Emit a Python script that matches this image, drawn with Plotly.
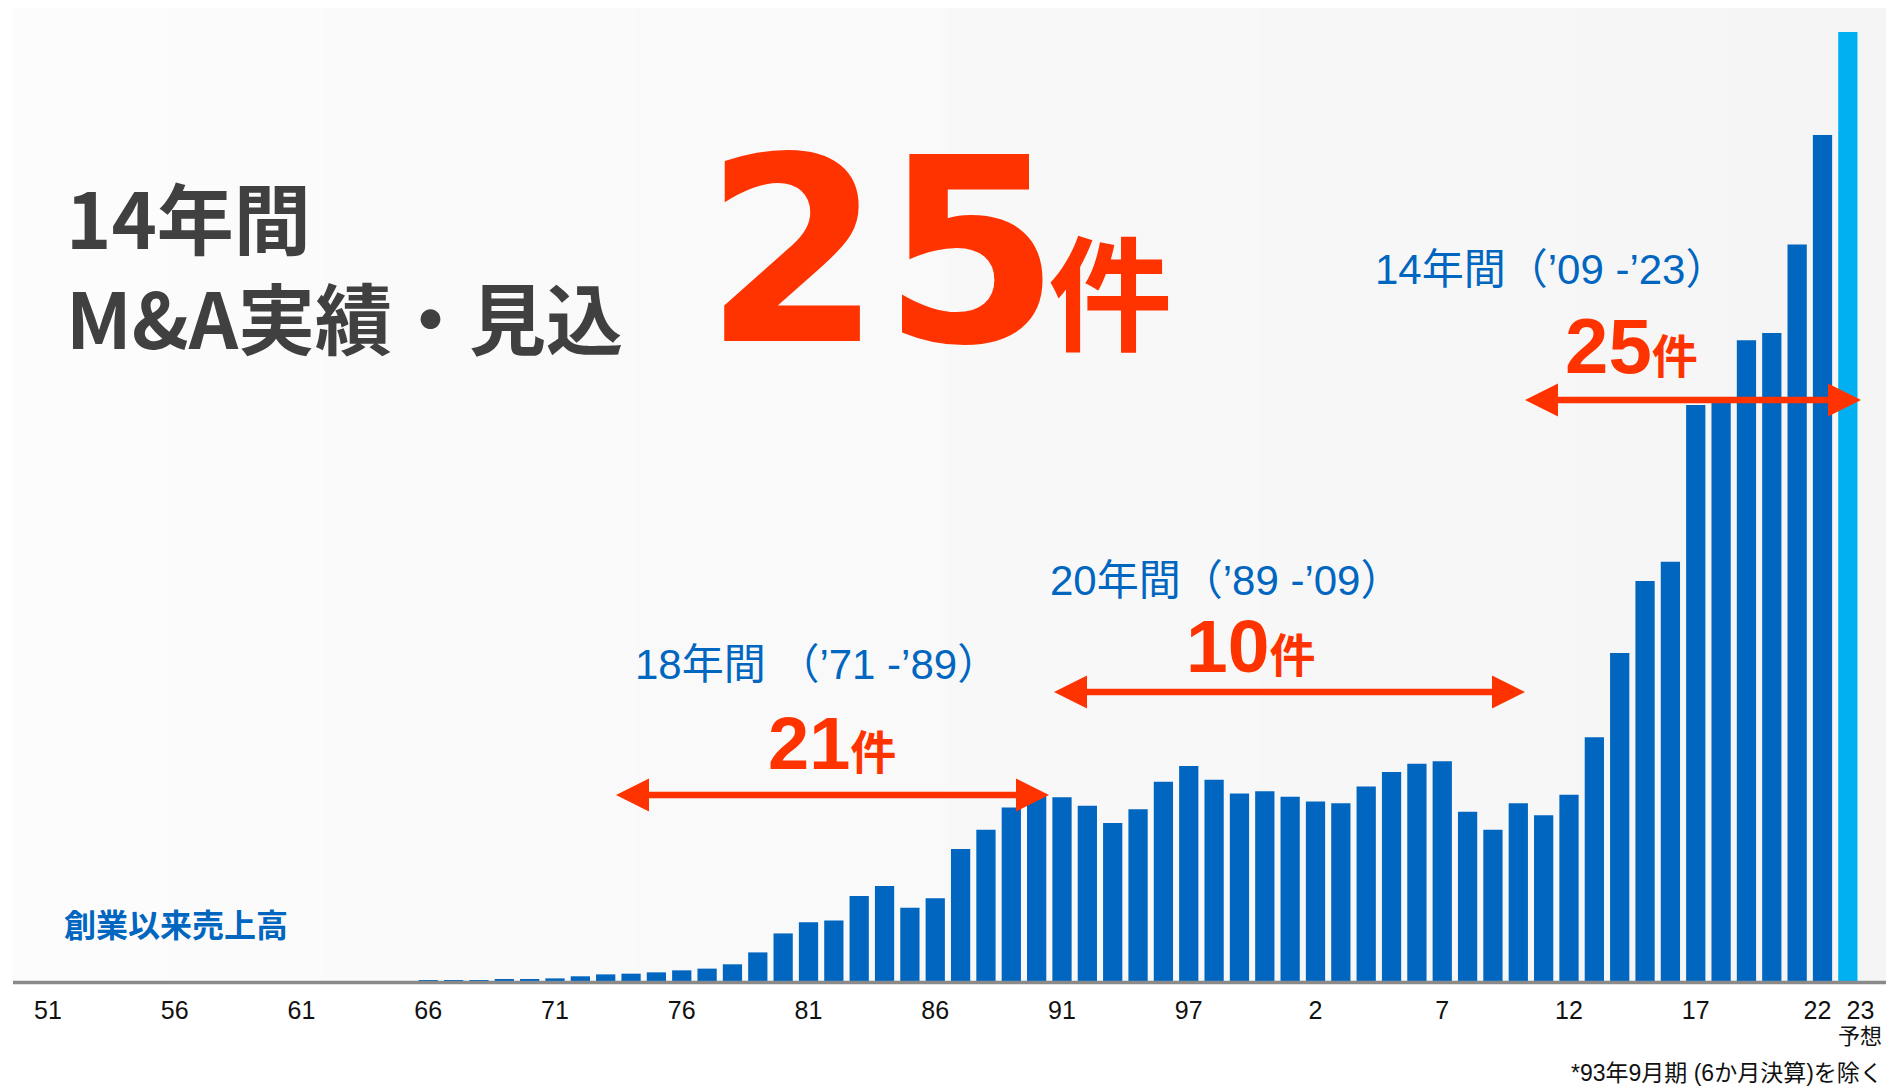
import plotly.graph_objects as go

# ---------------- data ----------------
periods = ["51", "52", "53", "54", "55", "56", "57", "58", "59", "60",
           "61", "62", "63", "64", "65", "66", "67", "68", "69", "70",
           "71", "72", "73", "74", "75", "76", "77", "78", "79", "80",
           "81", "82", "83", "84", "85", "86", "87", "88", "89", "90",
           "91", "92", "93", "95", "96", "97", "98", "99", "0", "1",
           "2", "3", "4", "5", "6", "7", "8", "9", "10", "11",
           "12", "13", "14", "15", "16", "17", "18", "19", "20", "21",
           "22", "23"]

sales = [0, 0, 0, 0, 0, 0, 0, 0, 0, 0,
         0, 0, 0, 0, 0, 6, 6, 11, 20, 31,
         40, 72, 101, 112, 132, 163, 189, 255, 437, 727,
         899, 925, 1297, 1453, 1119, 1266, 2018, 2312, 2652, 2863,
         2808, 2679, 2413, 2624, 3046, 3285, 3074, 2863, 2899, 2815,
         2741, 2716, 2973, 3193, 3321, 3358, 2587, 2312, 2716, 2532,
         2844, 3725, 5010, 6110, 6404, 8799, 8845, 9790, 9902, 11254,
         12928, 14500]

forecast_flags = [False] * 71 + [True]

tick_periods = ["51", "56", "61", "66", "71", "76", "81", "86", "91", "97",
                "2", "7", "12", "17", "22", "23"]
tick_texts = ["51", "56", "61", "66", "71", "76", "81", "86", "91", "97",
              "2", "7", "12", "17", "22", "23"]

# ---------------- layout helpers ----------------
W, H = 1886, 1087
PT, PB = 8, 981          # plot area top / bottom in pixels
X0_PX, SLOT_PX = 48, 25.35
TOP_PX = 32              # pixel top of the largest bar

def px(x):
    return x / W

def py(y):
    return (PB - y) / (PB - PT)

x_idx = list(range(len(periods)))
bar_colors = ["#00b0f0" if f else "#0066c0" for f in forecast_flags]

xmin = -X0_PX / SLOT_PX
xmax = (W - X0_PX) / SLOT_PX
ymax = max(sales) * (PB - PT) / (PB - TOP_PX)

tick_shift = {"22": -0.2, "23": 0.5}
tickvals = [periods.index(p) + tick_shift.get(p, 0) for p in tick_periods]

fig = go.Figure()
fig.add_trace(go.Bar(
    x=x_idx, y=sales, customdata=periods,
    marker=dict(color=bar_colors, line=dict(width=0)),
    width=0.76,
    hovertemplate="%{customdata}: %{y}<extra></extra>",
))

shapes = []
# subtle horizontal gradient background (bands)
band_cols = ["#fcfcfc", "#fbfbfb", "#fafafa", "#fafafa", "#f9f9f9", "#f9f9f9",
             "#f8f8f8", "#f8f8f8", "#f7f7f7", "#f7f7f7", "#f6f6f6", "#f5f5f5"]
bx0 = 12
bw = (W - bx0) / len(band_cols)
for i, c in enumerate(band_cols):
    shapes.append(dict(type="rect", xref="paper", yref="paper",
                       x0=px(bx0 + i * bw), x1=px(bx0 + (i + 1) * bw + 1),
                       y0=0, y1=1, fillcolor=c, line=dict(width=0),
                       layer="below"))
# baseline
shapes.append(dict(type="line", xref="paper", yref="paper",
                   x0=px(13), x1=1, y0=py(982.5), y1=py(982.5),
                   line=dict(color="#8a8a8a", width=3.5), layer="above"))

RED = "#ff3300"
BLUE = "#0066c0"

def arrow(xl, xr, y, head_len=33, head_half=16.5, thick=6.5):
    shapes.append(dict(type="line", xref="paper", yref="paper",
                       x0=px(xl + head_len - 2), x1=px(xr - head_len + 2),
                       y0=py(y), y1=py(y), line=dict(color=RED, width=thick)))
    for tip, base in ((xl, xl + head_len), (xr, xr - head_len)):
        path = (f"M {px(tip)},{py(y)} L {px(base)},{py(y - head_half)} "
                f"L {px(base)},{py(y + head_half)} Z")
        shapes.append(dict(type="path", xref="paper", yref="paper", path=path,
                           fillcolor=RED, line=dict(width=0)))

arrow(616, 1049, 795)
arrow(1054, 1525, 692)
arrow(1525, 1861, 400)

ann = []

def text(x, y, s, size, color, family="Liberation Sans, Noto Sans CJK JP",
         xanchor="left", yanchor="middle"):
    ann.append(dict(x=px(x), y=py(y), xref="paper", yref="paper", text=s,
                    showarrow=False, xanchor=xanchor, yanchor=yanchor,
                    align="left", font=dict(size=size, color=color, family=family)))

# headline
text(64, 265, "<b>14年間<br>M&amp;A実績・見込</b>", 77, "#404040",
     family="Noto Sans CJK JP")
text(702, 252,
     "<b>2<span style='letter-spacing:-12px'>5</span>"
     "<span style='font-family:Noto Sans CJK JP;font-size:124px'>件</span></b>",
     256, RED, family="DejaVu Sans, Noto Sans CJK JP")

# label
text(62, 923, "<b>創業以来売上高</b>", 32, BLUE, family="Noto Sans CJK JP")

# period labels
text(633, 664, "18年間 （’71 -’89）", 42, BLUE)
text(1048, 580, "20年間（’89 -’09）", 42, BLUE)
text(1373, 270, "14年間（’09 -’23）", 42, BLUE)

# counts
text(766, 743, "<b>21<span style='font-size:46px'>件</span></b>", 74, RED)
text(1184, 646, "<b>10<span style='font-size:46px'>件</span></b>", 75, RED)
text(1563, 346, "<b>25<span style='font-size:46px'>件</span></b>", 78, RED)

# forecast marker under last tick, footnote
text(1860, 1036, "予想", 22, "#111111", xanchor="center")
text(1885, 1073, "*93年9月期 (6か月決算)を除く", 23, "#111111", xanchor="right")

fig.update_layout(
    width=W, height=H,
    margin=dict(l=0, r=0, t=PT, b=H - PB),
    paper_bgcolor="white", plot_bgcolor="white",
    showlegend=False,
    bargap=0.24,
    shapes=shapes, annotations=ann,
    xaxis=dict(range=[xmin, xmax], tickmode="array", tickvals=tickvals,
               ticktext=tick_texts, showgrid=False, zeroline=False,
               showline=False, ticks="", ticklabelstandoff=12,
               tickfont=dict(size=25, color="#111111",
                             family="Liberation Sans, Noto Sans CJK JP")),
    yaxis=dict(range=[0, ymax], visible=False, showgrid=False),
)

fig.write_html("out.html", config={"displayModeBar": False},
               post_script="document.body.style.margin='0';document.body.style.padding='0';")
